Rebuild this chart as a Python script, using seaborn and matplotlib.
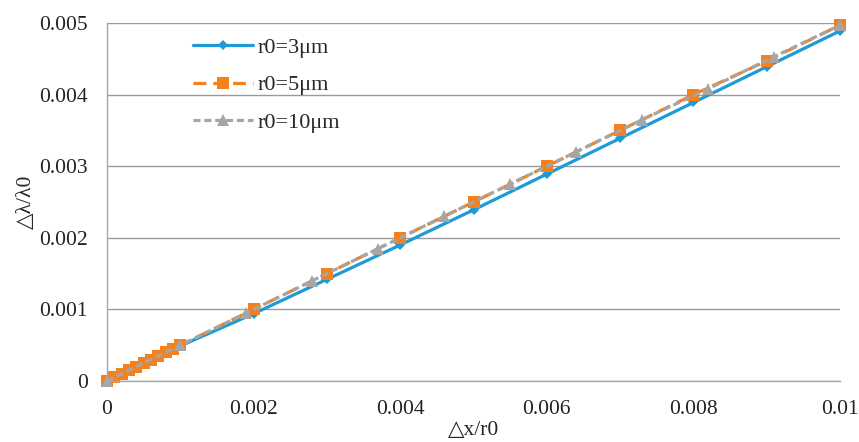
import matplotlib
matplotlib.use("Agg")
import matplotlib.pyplot as plt
import seaborn as sns
import pandas as pd

x_r3 = [0, 0.0001, 0.0002, 0.0003, 0.0004, 0.0005, 0.0006, 0.0007, 0.0008, 0.0009, 0.001,
        0.002, 0.003, 0.004, 0.005, 0.006, 0.007, 0.008, 0.009, 0.01]
y_r3 = [0, 0.000049, 0.000098, 0.000147, 0.000196, 0.000245, 0.000294, 0.000343, 0.000392, 0.000441, 0.00049,
        0.00094, 0.00142, 0.0019, 0.00239, 0.00289, 0.00339, 0.00389, 0.00439, 0.00489]

x_r5 = [0, 0.0001, 0.0002, 0.0003, 0.0004, 0.0005, 0.0006, 0.0007, 0.0008, 0.0009, 0.001,
        0.002, 0.003, 0.004, 0.005, 0.006, 0.007, 0.008, 0.009, 0.01]
y_r5 = [0, 0.00005, 0.0001, 0.00015, 0.0002, 0.00025, 0.0003, 0.00035, 0.0004, 0.00045, 0.0005,
        0.001, 0.0015, 0.002, 0.0025, 0.003, 0.0035, 0.004, 0.00447, 0.00497]

x_r10 = [0, 0.001, 0.0019, 0.0028, 0.0037, 0.0046, 0.0055, 0.0064, 0.0073, 0.0082, 0.0091, 0.01]
y_r10 = [0, 0.0005, 0.00095, 0.0014, 0.00185, 0.0023, 0.00275, 0.0032, 0.00365, 0.00408, 0.00453, 0.00497]

labels = ["r0=3μm", "r0=5μm", "r0=10μm"]
x_ticks = [0, 0.002, 0.004, 0.006, 0.008, 0.01]
x_tick_labels = ["0", "0.002", "0.004", "0.006", "0.008", "0.01"]
y_ticks = [0, 0.001, 0.002, 0.003, 0.004, 0.005]
y_tick_labels = ["0", "0.001", "0.002", "0.003", "0.004", "0.005"]

df = pd.concat([
    pd.DataFrame({"x": x_r3, "y": y_r3, "series": labels[0]}),
    pd.DataFrame({"x": x_r5, "y": y_r5, "series": labels[1]}),
    pd.DataFrame({"x": x_r10, "y": y_r10, "series": labels[2]}),
], ignore_index=True)

sns.set_style("white")
plt.rcParams["font.family"] = ["Liberation Serif", "DejaVu Serif"]

fig = plt.figure(figsize=(8.59, 4.42), dpi=100)
ax = fig.add_axes([0.1246, 0.138, 0.8534, 0.81])

palette = {labels[0]: "#1E9BD7", labels[1]: "#F4811F", labels[2]: "#A6A6A6"}
markers = {labels[0]: "D", labels[1]: "s", labels[2]: "^"}
dashes = {labels[0]: "", labels[1]: (4, 2.2), labels[2]: (2.2, 1.2)}
sizes = {labels[0]: 5, labels[1]: 8, labels[2]: 8}

for lab in labels:
    sub = df[df["series"] == lab]
    sns.lineplot(data=sub, x="x", y="y", ax=ax, color=palette[lab], marker=markers[lab],
                 markersize=sizes[lab], markeredgewidth=0, linewidth=2.3,
                 dashes=False, sort=False, label=lab, estimator=None)
    line = ax.get_lines()[-1]
    if dashes[lab]:
        line.set_dashes(dashes[lab])

ax.set_xlim(0, 0.01)
ax.set_ylim(0, 0.005)
ax.set_xticks(x_ticks)
ax.set_xticklabels(x_tick_labels)
ax.set_yticks(y_ticks)
ax.set_yticklabels(y_tick_labels)
ax.tick_params(axis="both", labelsize=15.5, length=0, colors="#222222")
ax.tick_params(axis="x", pad=14)
ax.tick_params(axis="y", pad=14)
ax.yaxis.grid(True, color="#9A9A9A", linewidth=1.0)
ax.xaxis.grid(False)
for s in ["top", "right"]:
    ax.spines[s].set_visible(False)
for s in ["left", "bottom"]:
    ax.spines[s].set_color("#A8A8A8")
    ax.spines[s].set_linewidth(1.0)
ax.set_axisbelow(True)
for l in ax.get_lines():
    l.set_clip_on(False)

ax.set_xlabel("△x/r0", fontsize=15.5, labelpad=1)
ax.set_ylabel("△λ/λ0", fontsize=15.5, labelpad=2)

handles, lbls = ax.get_legend_handles_labels()
for h, lab in zip(handles, lbls):
    if dashes[lab]:
        h.set_dashes(dashes[lab])
leg = ax.legend(handles, lbls, loc="upper left", bbox_to_anchor=(0.09, 1.015), frameon=False,
                fontsize=16, handlelength=2.7, labelspacing=0.75, handletextpad=0.2)

fig.savefig("out.png", dpi=100)
